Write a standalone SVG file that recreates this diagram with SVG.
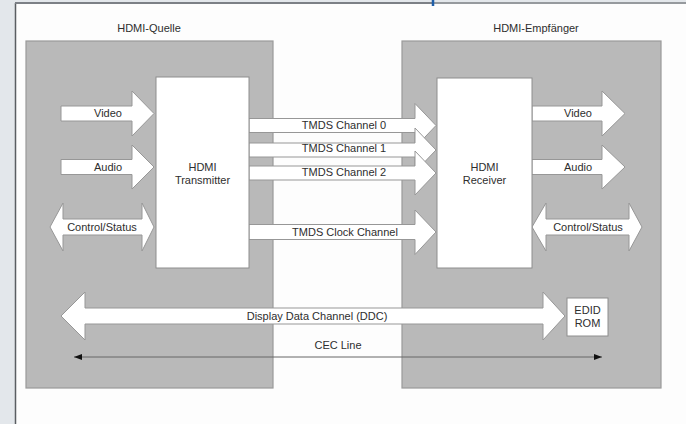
<svg xmlns="http://www.w3.org/2000/svg" width="686" height="424" viewBox="0 0 686 424">
<defs>
<style>
.t{font-family:"Liberation Sans",Arial,sans-serif;font-size:11px;fill:#2e2e2e;text-anchor:middle}
.box{fill:#b9b9b9;stroke:#9a9a9a;stroke-width:1.2}
.chip{fill:#ffffff;stroke:#8e8e8e;stroke-width:1}
.arr{fill:#ffffff;stroke:#979797;stroke-width:1}
</style>
<marker id="ah" viewBox="0 0 8 6" refX="8" refY="3" markerWidth="8" markerHeight="6" markerUnits="userSpaceOnUse" orient="auto-start-reverse">
<path d="M0,0 L8,3 L0,6 Z" fill="#111"/>
</marker>
</defs>
<rect x="0" y="0" width="686" height="424" fill="#e3e7eb"/>
<rect x="16" y="4" width="670" height="420" fill="#fdfdfd"/>
<line x1="15.5" y1="3" x2="15.5" y2="424" stroke="#5a5e62" stroke-width="1.5"/>
<line x1="15" y1="3" x2="433" y2="3" stroke="#7c8086" stroke-width="2"/>
<line x1="433" y1="3" x2="686" y2="3" stroke="#969a9e" stroke-width="2"/>
<line x1="433" y1="0" x2="433" y2="6" stroke="#1f5ea8" stroke-width="2.5"/>

<g id="hdmi-quelle">
<rect class="box" x="26" y="41" width="247" height="347"/>
<text class="t" x="149" y="32">HDMI-Quelle</text>
</g>
<g id="hdmi-empfaenger">
<rect class="box" x="402" y="41" width="259" height="347"/>
<text class="t" x="536" y="32">HDMI-Empfänger</text>
</g>

<g id="connectors">
<polygon class="arr" points="61,106 132,106 132,91 154,113.5 132,136 132,121 61,121"/>
<polygon class="arr" points="61,159.5 132,159.5 132,145 154,167 132,189 132,174.5 61,174.5"/>
<polygon class="arr" points="50,227 63,203 63,219 142,219 142,203 154,227 142,251 142,235 63,235 63,251"/>
<polygon class="arr" points="249,118.5 415,118.5 415,103.5 436,125.5 415,147.5 415,132.5 249,132.5"/>
<polygon class="arr" points="249,143 415,143 415,128 436,150 415,172 415,157 249,157"/>
<polygon class="arr" points="249,166 415,166 415,151 436,173 415,195 415,180 249,180"/>
<polygon class="arr" points="249,224.5 415,224.5 415,210 436,232 415,254.5 415,239.5 249,239.5"/>
<polygon class="arr" points="532,106 602,106 602,91 625,113.5 602,136 602,121 532,121"/>
<polygon class="arr" points="532,159.5 602,159.5 602,145 625,167 602,189 602,174.5 532,174.5"/>
<polygon class="arr" points="532,227 546,203 546,219 629,219 629,203 642,227 629,251 629,235 546,235 546,251"/>
<polygon class="arr" points="61,316 85,292 85,308 543,308 543,292 565,316 543,340 543,324 85,324 85,340"/>
<line x1="74" y1="357" x2="602" y2="357" stroke="#666" stroke-width="1" marker-start="url(#ah)" marker-end="url(#ah)"/>
<text class="t" x="108" y="117">Video</text>
<text class="t" x="108" y="171">Audio</text>
<text class="t" x="102" y="231">Control/Status</text>
<text class="t" x="344" y="129">TMDS Channel 0</text>
<text class="t" x="344" y="152">TMDS Channel 1</text>
<text class="t" x="344" y="176">TMDS Channel 2</text>
<text class="t" x="345" y="236">TMDS Clock Channel</text>
<text class="t" x="578" y="117">Video</text>
<text class="t" x="578" y="171">Audio</text>
<text class="t" x="588" y="231">Control/Status</text>
<text class="t" x="317" y="320">Display Data Channel (DDC)</text>
<text class="t" x="338" y="349">CEC Line</text>
</g>

<g id="hdmi-transmitter">
<rect class="chip" x="156" y="77" width="93" height="191"/>
<text class="t" x="202.5" y="171">HDMI</text>
<text class="t" x="202.5" y="184">Transmitter</text>
</g>
<g id="hdmi-receiver">
<rect class="chip" x="437" y="78" width="95" height="190"/>
<text class="t" x="484.5" y="171">HDMI</text>
<text class="t" x="484.5" y="184">Receiver</text>
</g>
<g id="edid-rom">
<rect class="chip" x="567" y="298" width="41" height="38"/>
<text class="t" x="587.5" y="314">EDID</text>
<text class="t" x="587.5" y="327">ROM</text>
</g>
</svg>
